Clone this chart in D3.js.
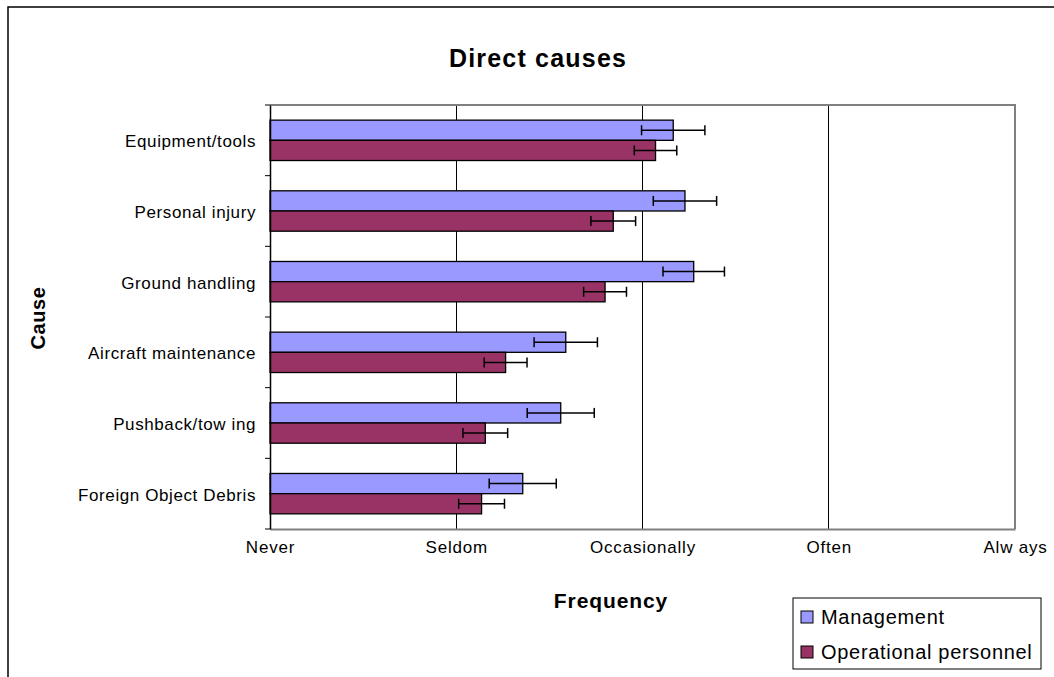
<!DOCTYPE html>
<html>
<head>
<meta charset="utf-8">
<script src="https://cdn.jsdelivr.net/npm/d3@7"></script>
<style>
  html, body { margin: 0; padding: 0; background: #fff; }
  svg { display: block; font-family: "Liberation Sans", Arial, sans-serif; }
</style>
</head>
<body>
<svg id="chart" width="1054" height="677"></svg>
<script>
const categories = ["Equipment/tools", "Personal injury", "Ground handling", "Aircraft maintenance", "Pushback/tow ing", "Foreign Object Debris"];
const seriesNames = ["Management", "Operational personnel"];
const managementValues = [3.165, 3.228, 3.275, 2.588, 2.561, 2.357];
const managementErrors = [0.17, 0.17, 0.165, 0.17, 0.18, 0.18];
const operationalValues = [3.07, 2.843, 2.799, 2.265, 2.156, 2.136];
const operationalErrors = [0.114, 0.12, 0.115, 0.115, 0.12, 0.123];
const tickLabels = ["Never", "Seldom", "Occasionally", "Often", "Alw ays"];
const tickValues = [1, 2, 3, 4, 5];
const colors = ["#9999FF", "#993366"];

const svg = d3.select("#chart");
const W = 1054, H = 677;
const plot = {left: 270, right: 1015, top: 105, bottom: 529};

// outer chart border
svg.append("rect").attr("x", 8).attr("y", 7).attr("width", W + 10).attr("height", H + 10)
  .attr("fill", "#fff").attr("stroke", "#000").attr("stroke-width", 1.5);

const x = d3.scaleLinear().domain([1, 5]).range([plot.left, plot.right]);
const y = d3.scaleBand().domain(categories).range([plot.top, plot.bottom]).paddingInner(0).paddingOuter(0);
const inner = d3.scaleBand().domain(seriesNames).range([0, y.bandwidth()]).paddingInner(0).paddingOuter(0.75);

// gridlines
svg.append("g").selectAll("line").data(tickValues.slice(1, -1)).join("line")
  .attr("x1", d => x(d)).attr("x2", d => x(d))
  .attr("y1", plot.top).attr("y2", plot.bottom)
  .attr("stroke", "#000").attr("stroke-width", 1).attr("shape-rendering", "crispEdges");

// frame top & right (gray)
svg.append("path")
  .attr("d", `M${plot.left},${plot.top}H${plot.right}V${plot.bottom}`)
  .attr("fill", "none").attr("stroke", "#808080").attr("stroke-width", 2);

// x axis
const xAxis = d3.axisBottom(x).tickValues(tickValues).tickSize(0).tickPadding(12)
  .tickFormat((d, i) => tickLabels[i]);
const gx = svg.append("g").attr("transform", `translate(0,${plot.bottom})`).call(xAxis);
gx.select(".domain").attr("stroke", "#808080").attr("stroke-width", 2);
gx.selectAll("text").attr("font-size", 17).attr("fill", "#000").attr("letter-spacing", 0.8)
  .attr("font-family", "'Liberation Sans', Arial, sans-serif");

// bars
const series = [
  {name: seriesNames[0], values: managementValues, errors: managementErrors, color: colors[0]},
  {name: seriesNames[1], values: operationalValues, errors: operationalErrors, color: colors[1]}
];
series.forEach(s => {
  const g = svg.append("g");
  g.selectAll("rect").data(categories).join("rect")
    .attr("x", x(1))
    .attr("y", c => y(c) + inner(s.name))
    .attr("width", (c, i) => x(s.values[i]) - x(1))
    .attr("height", inner.bandwidth())
    .attr("fill", s.color).attr("stroke", "#000").attr("stroke-width", 1.3);
});
// error bars
series.forEach(s => {
  const g = svg.append("g").attr("stroke", "#000").attr("stroke-width", 1.5);
  categories.forEach((c, i) => {
    const cy = y(c) + inner(s.name) + inner.bandwidth() / 2;
    const lo = x(s.values[i] - s.errors[i]), hi = x(s.values[i] + s.errors[i]);
    g.append("line").attr("x1", lo).attr("x2", hi).attr("y1", cy).attr("y2", cy);
    g.append("line").attr("x1", lo).attr("x2", lo).attr("y1", cy - 5).attr("y2", cy + 5);
    g.append("line").attr("x1", hi).attr("x2", hi).attr("y1", cy - 5).attr("y2", cy + 5);
  });
});

// y axis
const yAxis = d3.axisLeft(y).tickSize(0).tickPadding(14);
const gy = svg.append("g").attr("transform", `translate(${plot.left},0)`).call(yAxis);
gy.select(".domain").attr("stroke", "#000").attr("stroke-width", 1.5);
gy.selectAll("text").attr("font-size", 17).attr("fill", "#000").attr("letter-spacing", 0.6)
  .attr("dy", "0.42em")
  .attr("font-family", "'Liberation Sans', Arial, sans-serif");
// category boundary ticks
svg.append("g").selectAll("line").data(categories.concat(["_end"])).join("line")
  .attr("x1", plot.left - 5).attr("x2", plot.left)
  .attr("y1", (c, i) => i < categories.length ? y(c) : plot.bottom)
  .attr("y2", (c, i) => i < categories.length ? y(c) : plot.bottom)
  .attr("stroke", "#000").attr("stroke-width", 1);

// titles
svg.append("text").attr("x", 538).attr("y", 67).attr("text-anchor", "middle")
  .attr("font-size", 25).attr("font-weight", "bold").attr("letter-spacing", 1.2).text("Direct causes");
svg.append("text").attr("x", 611).attr("y", 608).attr("text-anchor", "middle")
  .attr("font-size", 21).attr("font-weight", "bold").attr("letter-spacing", 0.9).text("Frequency");
svg.append("text").attr("transform", "translate(45,318) rotate(-90)").attr("text-anchor", "middle")
  .attr("font-size", 20).attr("font-weight", "bold").attr("letter-spacing", 0.6).text("Cause");

// legend
const lg = svg.append("g");
lg.append("rect").attr("x", 793).attr("y", 598).attr("width", 248).attr("height", 71)
  .attr("fill", "#fff").attr("stroke", "#000").attr("stroke-width", 1);
series.forEach((s, i) => {
  const cy = 617 + i * 35;
  lg.append("rect").attr("x", 801).attr("y", cy - 6).attr("width", 12).attr("height", 12)
    .attr("fill", s.color).attr("stroke", "#000").attr("stroke-width", 1);
  lg.append("text").attr("x", 821).attr("y", cy + 7).attr("font-size", 20).attr("letter-spacing", 0.7).text(s.name);
});
</script>
</body>
</html>
